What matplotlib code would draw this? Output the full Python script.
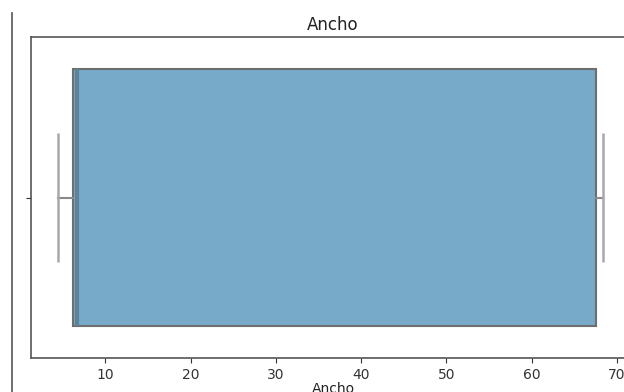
import matplotlib
matplotlib.use("Agg")
import matplotlib.pyplot as plt
from matplotlib.lines import Line2D

# valores (Ancho)
label = "Ancho"
whislo = 4.5
q1 = 6.2
med = 6.7
q3 = 67.5
whishi = 68.4
ticks = [10, 20, 30, 40, 50, 60, 70]

stats = [dict(whislo=whislo, q1=q1, med=med, q3=q3, whishi=whishi, fliers=[], label=label)]

fig = plt.figure(figsize=(6.24, 3.92), dpi=100)
# el eje sigue mas alla del borde derecho (imagen recortada)
ax = fig.add_axes([31/624, 34/392, 604/624, 321/392])

line_col = "#8a8a8a"
ax.bxp(stats, vert=False, widths=0.8, patch_artist=True, showcaps=False,
       boxprops=dict(facecolor="#77a9c9", edgecolor="#6e6e6e", linewidth=1.5),
       whiskerprops=dict(color=line_col, linewidth=1.5),
       medianprops=dict(color="#5f8299", linewidth=3),
       capprops=dict(color=line_col))

# bigotes verticales como en el original
ax.vlines([whislo, whishi], 0.8, 1.2, color="#a8a8a8", linewidth=1.8)

ax.set_xlim(1.3, 72.1)
ax.set_ylim(1.5, 0.5)
ax.set_xticks(ticks)
ax.set_yticks([1])
ax.set_yticklabels([""])
for s in ax.spines.values():
    s.set_color("#555555")
    s.set_linewidth(1.2)
ax.tick_params(colors="#333333", labelsize=10)
ax.set_title("Ancho", fontsize=12, color="#222222", pad=5)
ax.set_xlabel("Ancho", fontsize=10, color="#222222", labelpad=0)

fig.add_artist(Line2D([12/624, 12/624], [0, 1 - 13/392], color="#555555", linewidth=1.2))

fig.savefig("out.png", dpi=100)
